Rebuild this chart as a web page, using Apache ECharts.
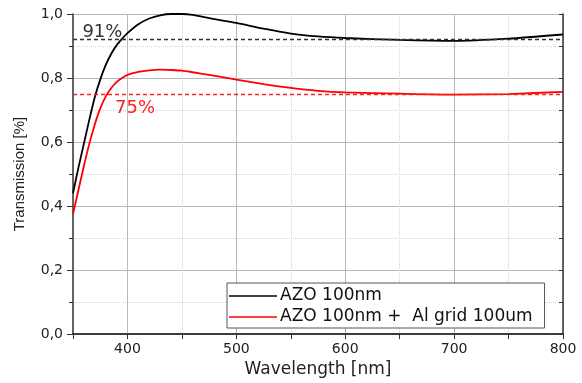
<!DOCTYPE html>
<html>
<head>
<meta charset="utf-8">
<script src="https://cdn.jsdelivr.net/npm/echarts@6/dist/echarts.min.js"></script>
<style>
  html, body { margin: 0; padding: 0; background: #fff; }
  #chart { width: 582px; height: 383px; }
</style>
</head>
<body>
<div id="chart"></div>
<script>
// wavelength in nm
const wavelength = [350, 355, 360, 365, 370, 375, 380, 385, 390, 395, 400, 410, 420, 430, 440, 450, 460, 475, 500, 525, 550, 575, 600, 650, 700, 750, 800];
// AZO 100nm
const azo = [0.44, 0.52, 0.595, 0.67, 0.74, 0.795, 0.84, 0.875, 0.902, 0.922, 0.94, 0.968, 0.986, 0.996, 1.0, 1.0, 0.997, 0.987, 0.972, 0.954, 0.939, 0.93, 0.925, 0.919, 0.916, 0.923, 0.936];
// AZO 100nm + Al grid 100um
const azoGrid = [0.375, 0.45, 0.525, 0.595, 0.655, 0.705, 0.742, 0.768, 0.787, 0.80, 0.81, 0.819, 0.824, 0.826, 0.825, 0.823, 0.818, 0.81, 0.795, 0.781, 0.769, 0.76, 0.755, 0.751, 0.748, 0.75, 0.757];
// average levels and their labels
const azoLevel = 0.917;
const azoGridLevel = 0.748;
const azoLevelText = '91%';
const azoGridLevelText = '75%';
// where the level labels sit [nm, T]
const azoLabelAt = [377, 0.942];
const azoGridLabelAt = [407, 0.704];
const seriesNames = ['AZO 100nm', 'AZO 100nm +  Al grid 100um'];

const wideFont = 'DejaVu Sans';
const axisColor = '#333';

const pairs = (ys) => wavelength.map((w, i) => [w, ys[i]]);

const levelSeries = (level, color, text, at) => ({
    markLine: {
        silent: true,
        symbol: 'none',
        label: { show: false },
        lineStyle: { color: color, type: [4, 3], width: 1.3 },
        data: [{ yAxis: level }]
    },
    markPoint: {
        silent: true,
        symbolSize: 0,
        label: {
            show: true,
            position: 'inside',
            formatter: text,
            color: color,
            fontFamily: wideFont,
            fontSize: 18
        },
        data: [{ coord: at }]
    }
});

const chart = echarts.init(document.getElementById('chart'));
chart.setOption({
    animation: false,
    grid: { left: 73, right: 19, top: 14, bottom: 43 },
    legend: {
        left: 227,
        top: 283,
        orient: 'vertical',
        data: seriesNames,
        icon: 'rect',
        itemWidth: 48,
        itemHeight: 1.6,
        itemGap: 3,
        padding: [4, 12, 2, 2],
        borderColor: '#555',
        borderWidth: 1,
        backgroundColor: '#fff',
        textStyle: { fontFamily: wideFont, fontSize: 17, lineHeight: 18, color: '#111', padding: [0, 0, 0, -2] }
    },
    xAxis: [
        {
            type: 'value', min: 350, max: 800, interval: 50, position: 'bottom',
            axisLine: { lineStyle: { color: axisColor, width: 1.5 } },
            axisTick: { length: 5, lineStyle: { color: axisColor } },
            axisLabel: {
                formatter: (v) => (v % 100 === 0 ? String(v) : ''),
                fontFamily: wideFont, fontSize: 14, color: '#222', margin: 8
            },
            splitLine: { show: true, lineStyle: { color: ['rgba(0,0,0,0)', '#b8b8b8'], width: 1 } },
            name: 'Wavelength [nm]',
            nameLocation: 'middle',
            nameGap: 22,
            nameTextStyle: { fontFamily: wideFont, fontSize: 17, color: '#222' }
        },
        {
            type: 'value', min: 350, max: 800, interval: 50, position: 'top',
            axisLine: { lineStyle: { color: axisColor, width: 1.5 } },
            axisTick: { inside: true, length: 4, lineStyle: { color: axisColor } },
            axisLabel: { show: false },
            splitLine: { show: false }
        },
        {
            type: 'value', min: 350, max: 800, interval: 100, position: 'top',
            axisLine: { show: false },
            axisTick: { show: false },
            axisLabel: { show: false },
            splitLine: { show: true, lineStyle: { color: '#d4d4d4', type: 'dotted', width: 1 } }
        }
    ],
    yAxis: [
        {
            type: 'value', min: 0, max: 1, interval: 0.2, position: 'left',
            axisLine: { show: true, lineStyle: { color: axisColor, width: 1.5 } },
            axisTick: { show: true, length: 6, lineStyle: { color: axisColor } },
            minorTick: { show: true, splitNumber: 2, length: 4, lineStyle: { color: axisColor } },
            minorSplitLine: { show: true, lineStyle: { color: '#d4d4d4', type: 'dotted', width: 1 } },
            splitLine: { show: true, lineStyle: { color: '#b8b8b8', width: 1 } },
            axisLabel: {
                formatter: (v) => v.toFixed(1).replace('.', ','),
                fontFamily: wideFont, fontSize: 14, color: '#222', margin: 10
            },
            name: 'Transmission [%]',
            nameLocation: 'middle',
            nameGap: 46,
            nameTextStyle: { fontFamily: 'Liberation Sans', fontSize: 15, color: '#222' }
        },
        {
            type: 'value', min: 0, max: 1, interval: 0.1, position: 'right',
            axisLine: { show: true, lineStyle: { color: axisColor, width: 1.5 } },
            axisTick: { show: true, inside: true, length: 4, lineStyle: { color: axisColor } },
            axisLabel: { show: false },
            splitLine: { show: false }
        }
    ],
    series: [
        Object.assign({
            name: seriesNames[0],
            type: 'line',
            data: pairs(azo),
            smooth: 0.2,
            symbol: 'none',
            clip: true,
            lineStyle: { color: '#000', width: 1.8 },
            itemStyle: { color: '#000' }
        }, levelSeries(azoLevel, '#333', azoLevelText, azoLabelAt)),
        Object.assign({
            name: seriesNames[1],
            type: 'line',
            data: pairs(azoGrid),
            smooth: 0.2,
            symbol: 'none',
            clip: true,
            lineStyle: { color: '#ff0000', width: 1.8 },
            itemStyle: { color: '#ff0000' }
        }, levelSeries(azoGridLevel, '#ff2020', azoGridLevelText, azoGridLabelAt))
    ]
});
</script>
</body>
</html>
